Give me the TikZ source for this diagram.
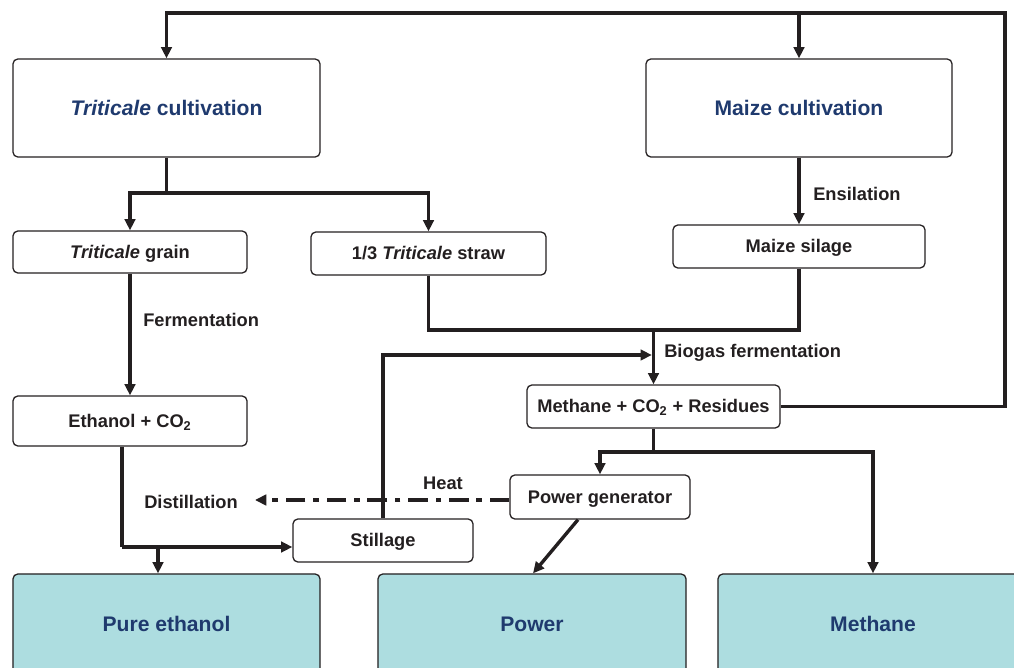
\documentclass[tikz,border=0pt]{standalone}
\usepackage{fontspec}
\setmainfont{Liberation Sans}
\usetikzlibrary{arrows.meta,calc}
\definecolor{navy}{HTML}{1F3A6E}
\definecolor{aqua}{HTML}{ADDDE0}
\definecolor{ink}{HTML}{231F20}

\begin{document}
\begin{tikzpicture}[x=0.025cm,y=-0.025cm,
    box/.style={draw=ink,line width=0.9pt,rounded corners=3.5pt,inner sep=0pt,
      text height=10pt,text depth=1pt,
      font=\fontsize{13}{15}\selectfont\bfseries,text=ink},
    bigbox/.style={box,minimum width=7.675cm,minimum height=2.45cm,
      text height=11.6pt,text depth=0.8pt,
      font=\fontsize{15}{18}\selectfont\bfseries,text=navy},
    prodbox/.style={bigbox,fill=aqua,minimum height=2.5cm},
    link/.style={draw=ink,line width=2.4pt},
    flow/.style={link,-{Triangle[length=8pt,width=7.5pt]}},
    heatflow/.style={flow,dash pattern=on 14pt off 5.5pt on 4pt off 5.5pt},
    lbl/.style={font=\fontsize{13}{15}\selectfont\bfseries,text=ink,inner sep=0pt}]
        \useasboundingbox (0,0) rectangle (1014,668);
        \clip (0,0) rectangle (1014,668);
        % boxes
        \node[bigbox] (tcult) at (166.5,108) {\textit{Triticale} cultivation};
        \node[bigbox,minimum width=7.65cm] (mcult) at (799,108) {Maize cultivation};
        \node[box,minimum width=5.85cm,minimum height=1.05cm] (grain) at (130,252) {\textit{Triticale} grain};
        \node[box,minimum width=5.875cm,minimum height=1.075cm] (straw) at (428.5,253.5) {1/3 \textit{Triticale} straw};
        \node[box,minimum width=6.3cm,minimum height=1.075cm] (silage) at (799,246.5) {Maize silage};
        \node[box,minimum width=5.85cm,minimum height=1.25cm] (ethanol) at (130,421) {Ethanol + CO\textsubscript{2}};
        \node[box,minimum width=6.325cm,minimum height=1.075cm] (mix) at (653.5,406.5) {Methane + CO\textsubscript{2} + Residues};
        \node[box,minimum width=4.5cm,minimum height=1.1cm] (gen) at (600,497) {Power generator};
        \node[box,minimum width=4.5cm,minimum height=1.075cm] (still) at (383,540.5) {Stillage};
        \node[prodbox] (pure) at (166.5,624) {Pure ethanol};
        \node[prodbox,minimum width=7.7cm] (power) at (532,624) {Power};
        \node[prodbox,minimum width=7.75cm] (meth) at (873,624) {Methane};
        % corners of the connectors
        \coordinate (loop) at (1005,13);
        \coordinate (tsplit) at (166.5,193);
        \coordinate (join) at (653.5,330);
        \coordinate (bio) at (653.5,355);
        \coordinate (dist) at (122,547);
        \coordinate (dsplit) at (158,547);
        \coordinate (msplit) at (653.5,452);
        \coordinate (heat) at (255,500);
        % connectors
        \draw[flow] (mix.east) -| (loop) -| (tcult.north);
        \draw[flow] (mcult.north |- loop) -- (mcult.north);
        \draw[flow] (tcult.south) -- (tsplit) -| (grain.north);
        \draw[flow] (tsplit) -| (straw.north);
        \draw[flow] (mcult.south) -- (silage.north);
        \draw[flow] (grain.south) -- (ethanol.north);
        \draw[link] (straw.south) |- (join);
        \draw[link] (silage.south) |- (join);
        \draw[flow] (join) -- (mix.north);
        \draw[flow,shorten >=1.2pt] (still.north) |- (bio);
        \draw[link] (ethanol.south -| dist) -- (dist);
        \draw[flow] (dist) -- (dist -| still.west);
        \draw[flow] (dsplit) -- (dsplit |- pure.north);
        \draw[heatflow] (gen.west |- heat) -- (heat);
        \draw[link] (mix.south) -- (msplit);
        \draw[flow] (msplit) -| (gen.north);
        \draw[flow] (msplit) -| (meth.north);
        \draw[flow] ($(gen.south)+(-22,0)$) -- ($(power.north)+(1,0)$);
        % labels
        \node[lbl,anchor=west] (ensil) at (813,194) {Ensilation};
        \node[lbl,anchor=west] (ferm) at (143,320) {Fermentation};
        \node[lbl,anchor=west] (biolbl) at (664,353) {Biogas fermentation};
        \node[lbl] (distlbl) at (191,502) {Distillation};
        \node[lbl] (heatlbl) at (443,483) {Heat};
    \end{tikzpicture}
\end{document}
